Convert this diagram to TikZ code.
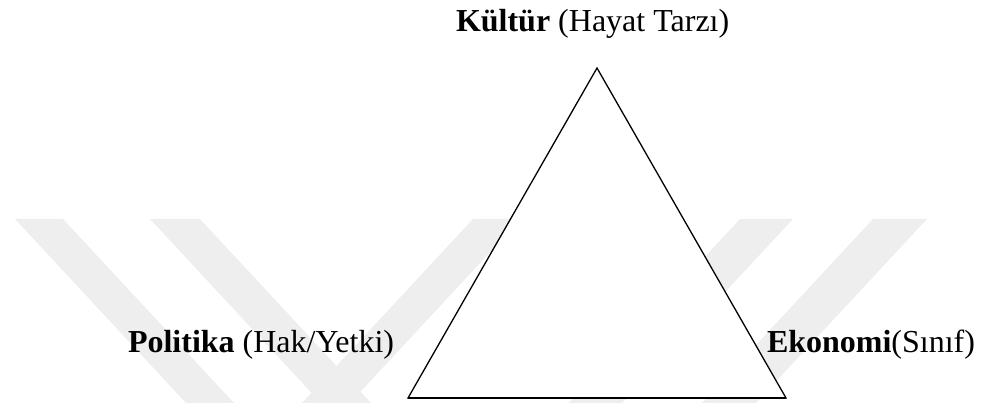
\documentclass[tikz,border=0pt]{standalone}
\usepackage{fontspec}
\setmainfont{Liberation Serif}
\definecolor{wmark}{RGB}{238,238,238}
\tikzset{
  lbl/.style={inner sep=0pt, outer sep=0pt, anchor=base west, font=\fontsize{32pt}{36pt}\selectfont},
  band/.style={fill=wmark, draw=none},
  tri/.style={draw=black, line width=1.3pt, fill=white, line join=miter},
  base/.style={draw=black, line width=2pt, line cap=butt}
}
\begin{document}
\begin{tikzpicture}[x=1pt,y=-1pt]
\useasboundingbox (0,0) rectangle (982,403);
% watermark bands
\fill[band] (15,219) -- (63,219) -- (234,403) -- (186,403) -- cycle;
\fill[band] (150,219) -- (200,219) -- (371,403) -- (321,403) -- cycle;
\fill[band] (473,219) -- (521,219) -- (350,403) -- (302,403) -- cycle;
\fill[band] (740,219) -- (793,219) -- (622,403) -- (569,403) -- cycle;
\fill[band] (873,219) -- (927,219) -- (756,403) -- (702,403) -- cycle;
% triangle
\coordinate (top) at (597,68);
\coordinate (bl) at (408,398);
\coordinate (br) at (786,398);
\draw[tri] (top) -- (br) -- (bl) -- cycle;
\draw[base] (bl) -- (br);
% labels
\node[lbl] (kultur) at (456,32) {\textbf{Kültür} (Hayat Tarzı)};
\node[lbl] (politika) at (128,352) {\textbf{Politika} (Hak/Yetki)};
\node[lbl] (ekonomi) at (767,352) {\textbf{Ekonomi}(Sınıf)};
\end{tikzpicture}
\end{document}
